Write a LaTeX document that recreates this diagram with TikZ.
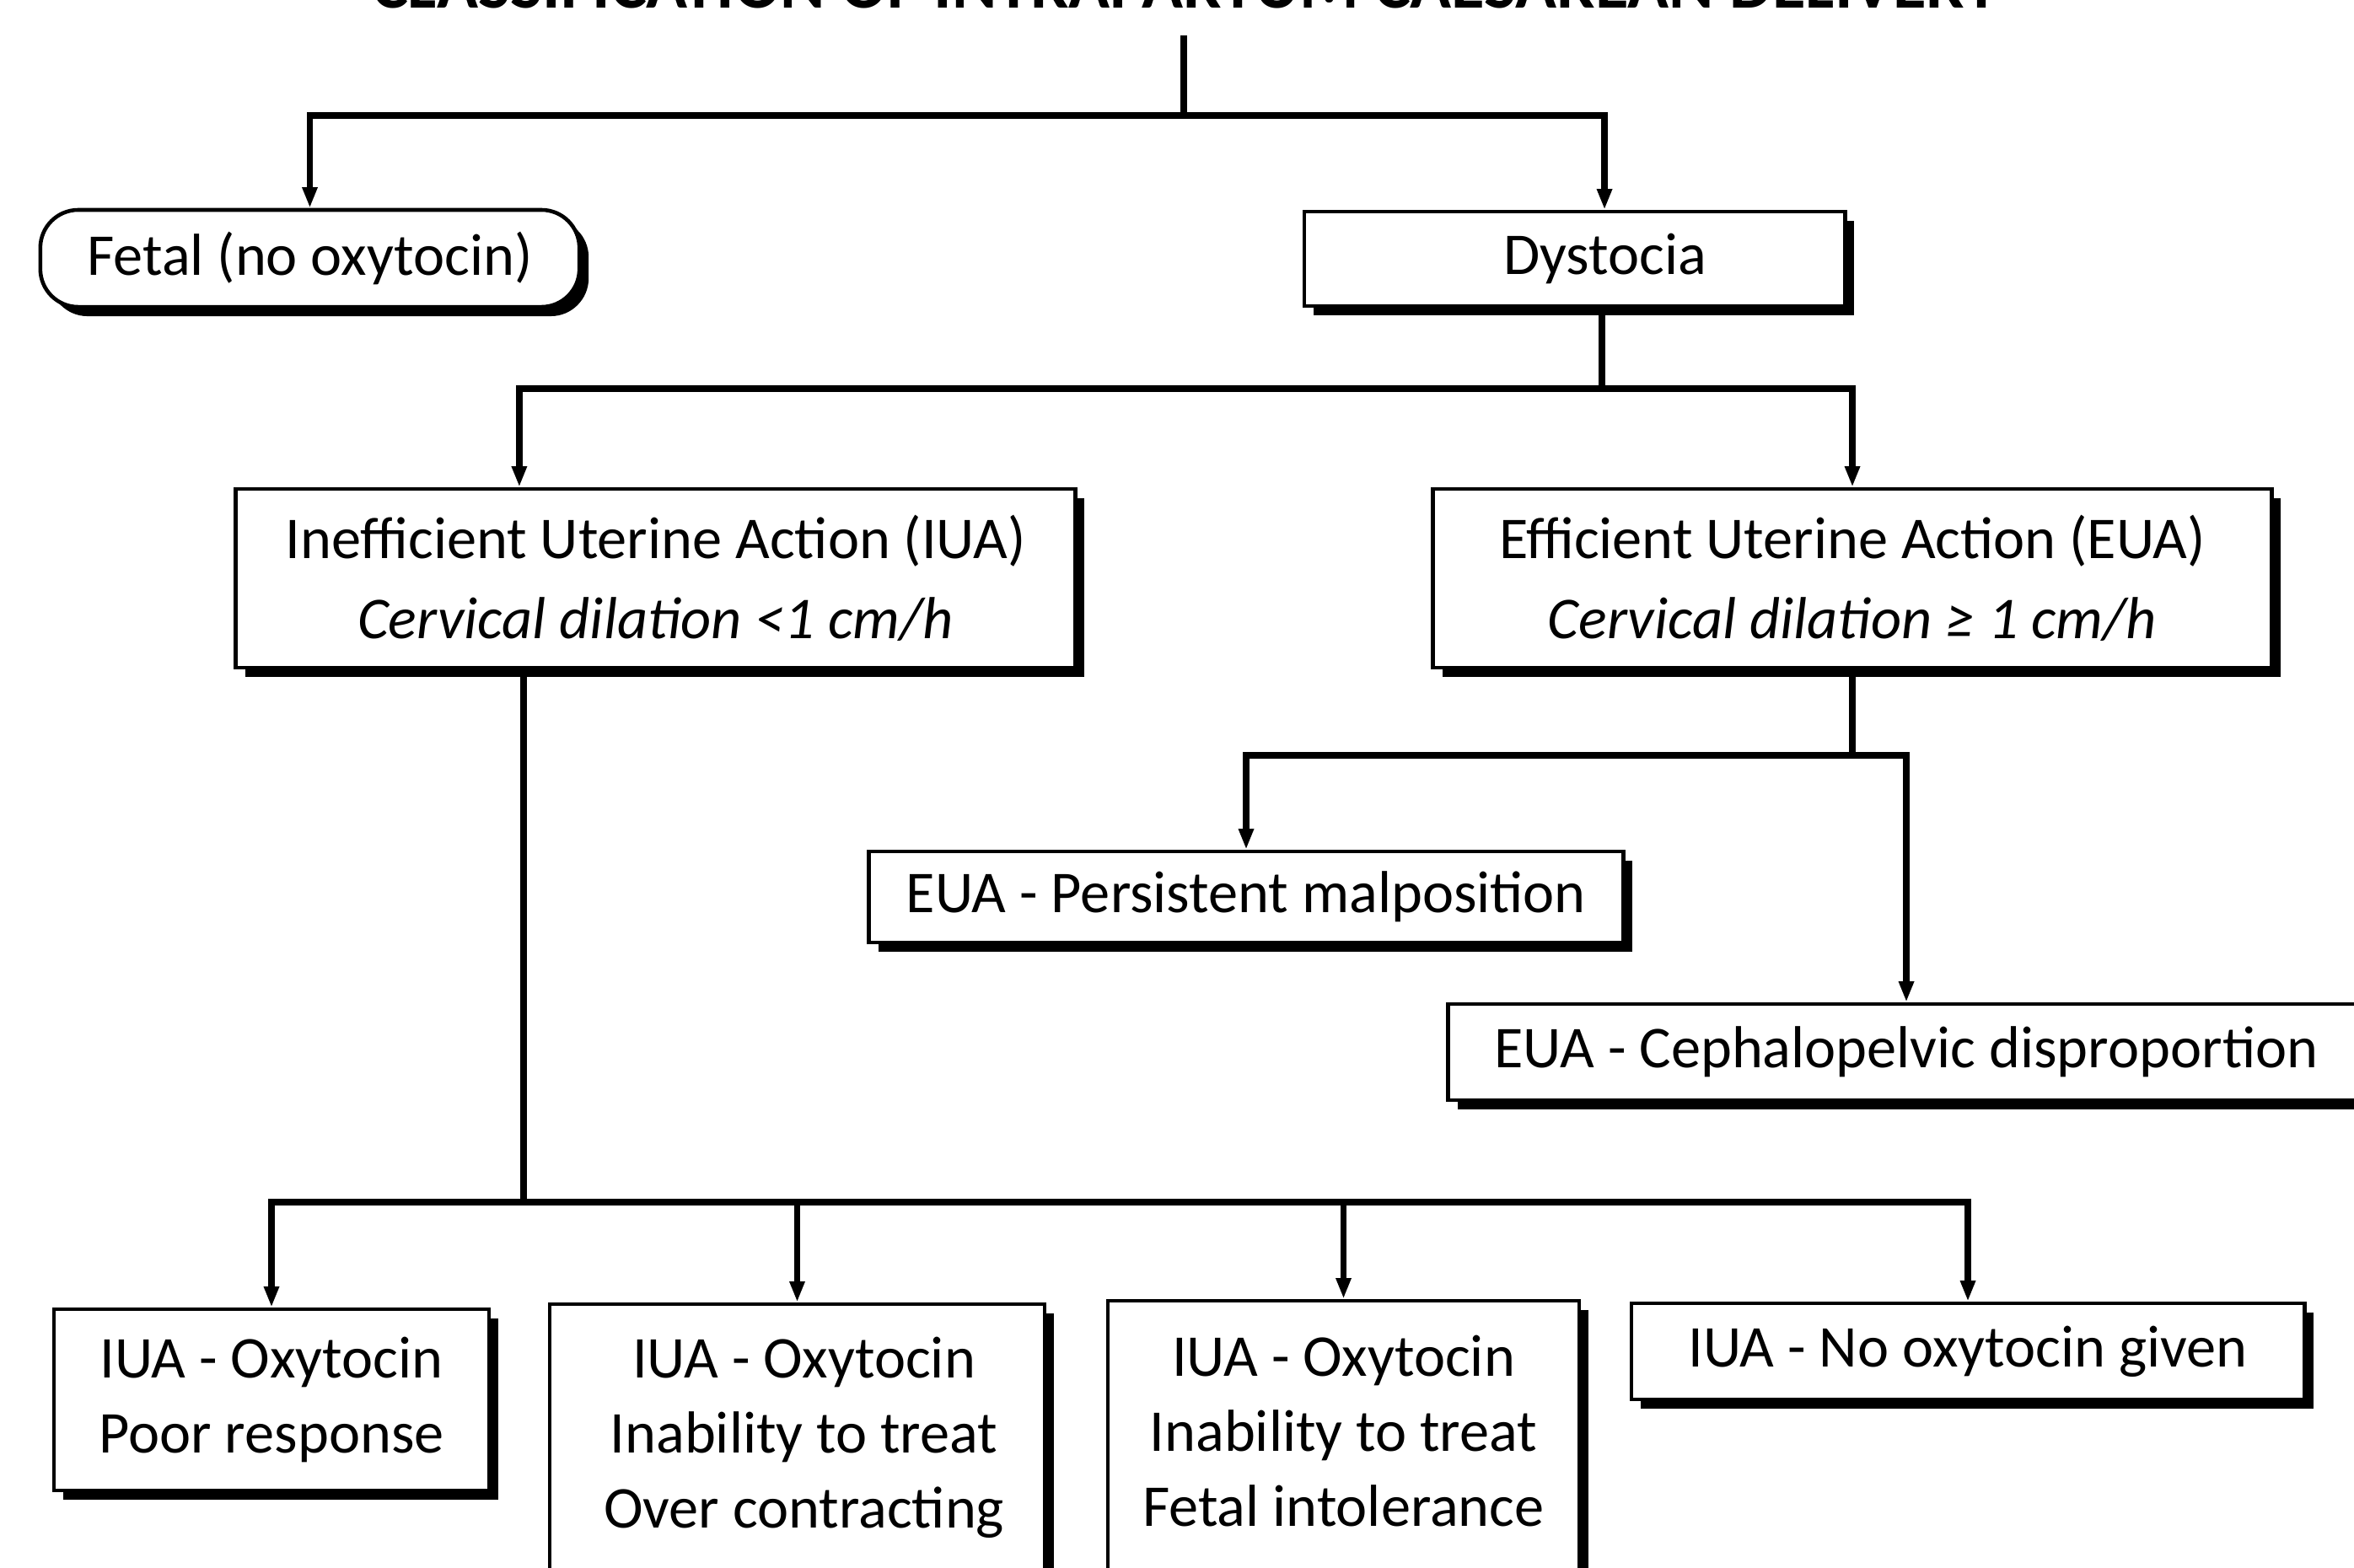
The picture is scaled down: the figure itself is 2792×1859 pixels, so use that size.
\documentclass[tikz,border=0pt]{standalone}
\usepackage{fontspec}
\setmainfont{Carlito}
\usetikzlibrary{arrows.meta,shadows}
\tikzset{
  box/.style={draw=black, line width=1.3pt, fill=white,
    drop shadow={shadow xshift=0.11cm, shadow yshift=-0.11cm, fill=black, opacity=1},
    inner sep=0pt, align=center, font=\fontsize{20}{27}\selectfont},
  lowbox/.style={box, font=\fontsize{20}{25.3}\selectfont},
  txt/.style={inner sep=0pt, align=center, font=\fontsize{20}{25.3}\selectfont},
  conn/.style={line width=2.2pt},
  arr/.style={conn, -{Triangle[length=7pt,width=4.8pt]}},
}
\begin{document}
\begin{tikzpicture}[x=0.01cm,y=-0.01cm]
\path[use as bounding box, fill=white] (0,0) rectangle (2792,1859);
\clip (0,0) rectangle (2792,1859);

% title (cut off at top, as in the reference)
\node[anchor=base, inner sep=0pt, font=\bfseries\fontsize{23}{23}\selectfont] (title) at (1406,9)
  {CLASSIFICATION OF INTRAPARTUM CAESAREAN DELIVERY};

% boxes
\node[box, rounded corners=0.45cm, minimum width=6.39cm, minimum height=1.15cm] (fetal) at (367.5,306.5) {Fetal (no oxytocin)};
\node[box, minimum width=6.41cm, minimum height=1.12cm] (dyst) at (1867.5,307) {\hspace*{0.72cm}Dystocia};
\node[box, minimum width=9.95cm, minimum height=2.12cm] (iua) at (777.5,686)
  {Inefficient Uterine Action (IUA)\\\itshape Cervical dilation <1 cm/h};
\node[box, minimum width=9.94cm, minimum height=2.12cm] (eua) at (2197,686)
  {Efficient Uterine Action (EUA)\\\itshape Cervical dilation ≥ 1 cm/h};
\node[box, minimum width=8.94cm, minimum height=1.08cm] (pm) at (1478,1064) {EUA - Persistent malposition};
\node[box, minimum width=10.86cm, minimum height=1.14cm] (cpd) at (2261,1248) {EUA - Cephalopelvic disproportion};

\node[lowbox, minimum width=5.16cm, minimum height=2.15cm] (b1) at (322,1660.5) {IUA - Oxytocin\\Poor response};
\node[lowbox, minimum width=5.87cm, minimum height=3.53cm] (b2) at (945.5,1723.5) {};
\node[txt, anchor=north] (b2t) at ([xshift=0.08cm,yshift=-0.41cm]b2.north) {IUA - Oxytocin\\Inability to treat\\Over contracting};
\node[lowbox, minimum width=5.59cm, minimum height=3.57cm] (b3) at (1593.5,1721.5) {};
\node[txt, anchor=north] (b3t) at ([yshift=-0.43cm]b3.north) {IUA - Oxytocin\\Inability to treat\\Fetal intolerance};
\node[lowbox, minimum width=7.98cm, minimum height=1.14cm] (b4) at (2334,1603) {IUA - No oxytocin given};

% connectors
\coordinate (top) at (1404,42);
\coordinate (j0) at (1404,137);
\draw[conn] (top) -- (j0);
\draw[arr] (j0) -| (fetal.north);
\draw[arr] (j0) -| ([xshift=0.355cm]dyst.north);

\coordinate (j1) at (1900,461);
\draw[conn] ([xshift=0.325cm]dyst.south) -- (j1);
\draw[arr] (j1) -| ([xshift=-1.615cm]iua.north);
\draw[arr] (j1) -| (eua.north);

\coordinate (j2) at (621,1426);
\draw[conn] ([xshift=-1.565cm]iua.south) -- (j2);
\draw[arr] (j2) -| (b1.north);
\draw[arr] (j2) -| (b2.north);
\draw[arr] (j2) -| (b3.north);
\draw[arr] (j2) -| (b4.north);

\coordinate (j3) at (2197,896);
\draw[conn] (eua.south) -- (j3);
\draw[arr] (j3) -| (pm.north);
\draw[arr] (j3) -| (cpd.north);
\end{tikzpicture}
\end{document}
